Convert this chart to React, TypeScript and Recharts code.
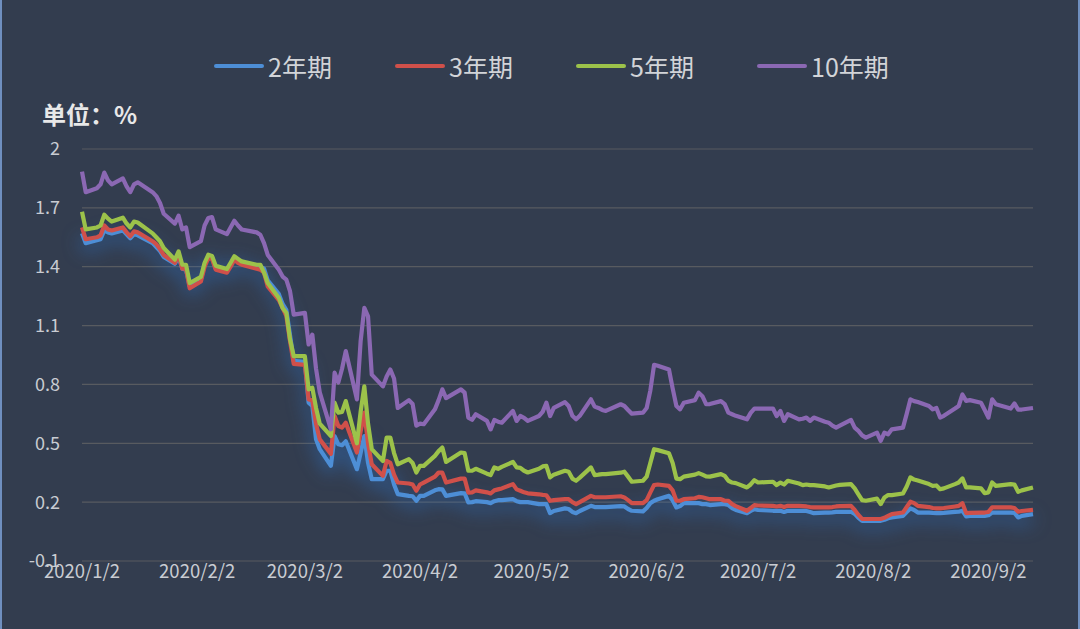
import { LineChart, Line, XAxis, YAxis, CartesianGrid } from 'recharts'

// trading days (2020)
const dates = [
  '1/2', '1/3', '1/6', '1/7', '1/8', '1/9', '1/10', '1/13', '1/14', '1/15', '1/16', '1/17', '1/21', '1/22', '1/23', '1/24',
  '1/27', '1/28', '1/29', '1/30', '1/31',
  '2/3', '2/4', '2/5', '2/6', '2/7', '2/10', '2/11', '2/12', '2/13', '2/14', '2/18', '2/19', '2/20', '2/21', '2/24', '2/25',
  '2/26', '2/27', '2/28',
  '3/2', '3/3', '3/4', '3/5', '3/6', '3/9', '3/10', '3/11', '3/12', '3/13', '3/16', '3/17', '3/18', '3/19', '3/20', '3/23',
  '3/24', '3/25', '3/26', '3/27', '3/30', '3/31',
  '4/1', '4/2', '4/3', '4/6', '4/7', '4/8', '4/9', '4/13', '4/14', '4/15', '4/16', '4/17', '4/20', '4/21', '4/22', '4/23',
  '4/24', '4/27', '4/28', '4/29', '4/30',
  '5/1', '5/4', '5/5', '5/6', '5/7', '5/8', '5/11', '5/12', '5/13', '5/14', '5/15', '5/18', '5/19', '5/20', '5/21', '5/22',
  '5/26', '5/27', '5/28', '5/29',
  '6/1', '6/2', '6/3', '6/4', '6/5', '6/8', '6/9', '6/10', '6/11', '6/12', '6/15', '6/16', '6/17', '6/18', '6/19', '6/22',
  '6/23', '6/24', '6/25', '6/26', '6/29', '6/30',
  '7/1', '7/2', '7/6', '7/7', '7/8', '7/9', '7/10', '7/13', '7/14', '7/15', '7/16', '7/17', '7/20', '7/21', '7/22', '7/23',
  '7/24', '7/27', '7/28', '7/29', '7/30', '7/31',
  '8/3', '8/4', '8/5', '8/6', '8/7', '8/10', '8/11', '8/12', '8/13', '8/14', '8/17', '8/18', '8/19', '8/20', '8/21', '8/24',
  '8/25', '8/26', '8/27', '8/28', '8/31',
  '9/1', '9/2', '9/3', '9/4', '9/8', '9/9', '9/10', '9/11', '9/14',
]

const y2 = [
  1.57, 1.52, 1.535, 1.54, 1.585, 1.575, 1.57, 1.585, 1.565, 1.545, 1.565, 1.56, 1.52, 1.5, 1.48, 1.45,
  1.415, 1.45, 1.39, 1.385, 1.3,
  1.336, 1.41, 1.453, 1.45, 1.39, 1.38, 1.41, 1.445, 1.43, 1.42, 1.4, 1.4, 1.39, 1.33, 1.26, 1.21,
  1.18, 1.05, 0.92,
  0.915, 0.707, 0.69, 0.52, 0.47, 0.385, 0.537, 0.495, 0.49, 0.51, 0.368, 0.45, 0.537, 0.4, 0.317, 0.317,
  0.36, 0.36, 0.29, 0.241, 0.232, 0.23,
  0.207, 0.232, 0.232, 0.26, 0.266, 0.265, 0.232, 0.246, 0.245, 0.199, 0.2, 0.205, 0.2, 0.195, 0.205, 0.21,
  0.21, 0.215, 0.205, 0.2, 0.2,
  0.2, 0.19, 0.19, 0.19, 0.144, 0.155, 0.168, 0.165, 0.15, 0.144, 0.155, 0.181, 0.175, 0.175, 0.175, 0.175,
  0.18, 0.178, 0.165, 0.156,
  0.153, 0.17, 0.195, 0.207, 0.215, 0.232, 0.21, 0.173, 0.18, 0.195, 0.195, 0.195, 0.19, 0.19, 0.185, 0.19,
  0.19, 0.185, 0.17, 0.16, 0.144, 0.155,
  0.164, 0.16, 0.156, 0.156, 0.156, 0.15, 0.156, 0.156, 0.155, 0.155, 0.15, 0.144, 0.147, 0.147, 0.148, 0.15,
  0.15, 0.151, 0.14, 0.12, 0.105, 0.105,
  0.105, 0.105, 0.11, 0.118, 0.122, 0.13, 0.15, 0.168, 0.16, 0.147, 0.147, 0.145, 0.144, 0.144, 0.145, 0.15,
  0.151, 0.156, 0.127, 0.13, 0.13,
  0.13, 0.133, 0.147, 0.147, 0.147, 0.145, 0.122, 0.13, 0.139,
]

const y3 = [
  1.6, 1.54, 1.55, 1.56, 1.61, 1.59, 1.585, 1.6, 1.575, 1.555, 1.58, 1.575, 1.53, 1.515, 1.49, 1.46,
  1.42, 1.46, 1.39, 1.39, 1.29,
  1.325, 1.4, 1.444, 1.44, 1.385, 1.37, 1.4, 1.436, 1.42, 1.41, 1.39, 1.385, 1.37, 1.3, 1.23, 1.19,
  1.15, 1.02, 0.905,
  0.9, 0.724, 0.72, 0.6, 0.52, 0.446, 0.639, 0.588, 0.58, 0.605, 0.453, 0.56, 0.656, 0.5, 0.393, 0.334,
  0.41, 0.4, 0.34, 0.3, 0.295, 0.29,
  0.258, 0.29, 0.3, 0.33, 0.351, 0.35, 0.3, 0.32, 0.32, 0.249, 0.25, 0.26, 0.25, 0.244, 0.26, 0.265,
  0.27, 0.292, 0.265, 0.258, 0.25,
  0.245, 0.24, 0.237, 0.235, 0.207, 0.21, 0.215, 0.215, 0.2, 0.19, 0.2, 0.232, 0.225, 0.225, 0.225, 0.225,
  0.23, 0.224, 0.21, 0.195,
  0.195, 0.21, 0.25, 0.287, 0.29, 0.283, 0.26, 0.207, 0.207, 0.215, 0.22, 0.227, 0.225, 0.22, 0.215, 0.215,
  0.207, 0.207, 0.19, 0.18, 0.156, 0.17,
  0.185, 0.183, 0.181, 0.178, 0.181, 0.175, 0.181, 0.181, 0.18, 0.178, 0.175, 0.173, 0.173, 0.173, 0.175, 0.178,
  0.18, 0.181, 0.16, 0.135, 0.115, 0.114,
  0.114, 0.114, 0.12, 0.13, 0.139, 0.147, 0.175, 0.202, 0.195, 0.181, 0.175, 0.17, 0.168, 0.168, 0.17, 0.178,
  0.181, 0.195, 0.144, 0.145, 0.147,
  0.147, 0.15, 0.173, 0.173, 0.173, 0.17, 0.151, 0.155, 0.161,
]

const y5 = [
  1.68, 1.59, 1.6, 1.61, 1.665, 1.645, 1.63, 1.65, 1.62, 1.6, 1.63, 1.625, 1.57, 1.55, 1.53, 1.495,
  1.436, 1.478, 1.41, 1.41, 1.317,
  1.348, 1.42, 1.461, 1.455, 1.405, 1.388, 1.42, 1.453, 1.44, 1.427, 1.41, 1.41, 1.37, 1.317, 1.24, 1.19,
  1.165, 1.03, 0.944,
  0.944, 0.775, 0.783, 0.68, 0.6, 0.537, 0.707, 0.656, 0.66, 0.715, 0.5, 0.66, 0.79, 0.6, 0.47, 0.41,
  0.529, 0.529, 0.45, 0.393, 0.419, 0.4,
  0.351, 0.385, 0.385, 0.436, 0.46, 0.478, 0.405, 0.453, 0.45, 0.36, 0.36, 0.37, 0.345, 0.338, 0.377, 0.37,
  0.38, 0.405, 0.377, 0.375, 0.36,
  0.351, 0.37, 0.382, 0.385, 0.326, 0.34, 0.36, 0.355, 0.32, 0.309, 0.325, 0.377, 0.338, 0.34, 0.343, 0.343,
  0.35, 0.355, 0.33, 0.304,
  0.309, 0.33, 0.4, 0.47, 0.465, 0.449, 0.4, 0.32, 0.317, 0.33, 0.34, 0.348, 0.34, 0.331, 0.33, 0.343,
  0.334, 0.309, 0.3, 0.297, 0.275, 0.29,
  0.312, 0.3, 0.304, 0.287, 0.3, 0.29, 0.309, 0.295, 0.287, 0.29, 0.287, 0.287, 0.28, 0.275, 0.28, 0.285,
  0.288, 0.292, 0.27, 0.24, 0.21, 0.207,
  0.218, 0.19, 0.224, 0.236, 0.236, 0.244, 0.28, 0.326, 0.315, 0.31, 0.292, 0.283, 0.285, 0.266, 0.27, 0.292,
  0.3, 0.321, 0.275, 0.275, 0.27,
  0.246, 0.25, 0.3, 0.283, 0.292, 0.29, 0.253, 0.26, 0.275,
]

const y10 = [
  1.885, 1.78, 1.8, 1.82, 1.88, 1.84, 1.82, 1.85, 1.81, 1.78, 1.82, 1.83, 1.78, 1.76, 1.725, 1.67,
  1.62, 1.66, 1.59, 1.6, 1.5,
  1.53, 1.61, 1.648, 1.653, 1.59, 1.566, 1.6, 1.634, 1.61, 1.59, 1.575, 1.563, 1.52, 1.46, 1.385, 1.35,
  1.334, 1.275, 1.156,
  1.165, 1.004, 1.054, 0.88, 0.76, 0.571, 0.86, 0.81, 0.88, 0.97, 0.724, 1.02, 1.19, 1.147, 0.85, 0.79,
  0.84, 0.876, 0.83, 0.68, 0.72, 0.7,
  0.59, 0.6, 0.597, 0.673, 0.72, 0.775, 0.73, 0.775, 0.758, 0.631, 0.62, 0.648, 0.614, 0.571, 0.619, 0.61,
  0.605, 0.665, 0.614, 0.639, 0.63,
  0.614, 0.639, 0.66, 0.707, 0.639, 0.68, 0.71, 0.69, 0.64, 0.622, 0.64, 0.724, 0.687, 0.68, 0.67, 0.665,
  0.699, 0.69, 0.67, 0.651,
  0.656, 0.68, 0.77, 0.9, 0.895, 0.876, 0.78, 0.69, 0.673, 0.707, 0.72, 0.758, 0.74, 0.699, 0.7, 0.715,
  0.7, 0.656, 0.648, 0.64, 0.622, 0.655,
  0.677, 0.677, 0.677, 0.639, 0.665, 0.614, 0.648, 0.622, 0.625, 0.631, 0.614, 0.631, 0.61, 0.605, 0.59, 0.58,
  0.59, 0.619, 0.58, 0.563, 0.54, 0.529,
  0.554, 0.512, 0.554, 0.546, 0.571, 0.58, 0.65, 0.724, 0.715, 0.71, 0.69, 0.673, 0.68, 0.631, 0.64, 0.677,
  0.69, 0.749, 0.716, 0.72, 0.707,
  0.67, 0.631, 0.724, 0.699, 0.677, 0.703, 0.672, 0.672, 0.68,
]

const tickLabels = ['2020/1/2', '2020/2/2', '2020/3/2', '2020/4/2', '2020/5/2', '2020/6/2', '2020/7/2', '2020/8/2', '2020/9/2']
const yTicks = [-0.1, 0.2, 0.5, 0.8, 1.1, 1.4, 1.7, 2]

const series = [
  { key: 'y2', name: '2年期', color: '#4d8ed6' },
  { key: 'y3', name: '3年期', color: '#d0504a' },
  { key: 'y5', name: '5年期', color: '#9cc24a' },
  { key: 'y10', name: '10年期', color: '#8b68b3' },
]

const FONT = '"Noto Sans CJK SC", "Noto Sans", sans-serif'
const BG = '#333d4f'

// days since 2020-01-01
const dayOf = (m: number, d: number) => (Date.UTC(2020, m - 1, d) - Date.UTC(2020, 0, 1)) / 86400000

const data = dates.map((s, i) => {
  const [m, d] = s.split('/').map(Number)
  return { day: dayOf(m, d), y2: y2[i], y3: y3[i], y5: y5[i], y10: y10[i] }
})

const tickDays = tickLabels.map((t) => {
  const [, m, d] = t.split('/').map(Number)
  return dayOf(m, d)
})
const labelFor = (v: number) => tickLabels[tickDays.indexOf(v)] ?? ''

export default function App() {
  return (
    <div
      style={{
        position: 'absolute',
        left: 0,
        top: 0,
        width: 1080,
        height: 629,
        background: BG,
        fontFamily: FONT,
        boxSizing: 'border-box',
        borderLeft: '2px solid #6f8fbf',
        borderRight: '2px solid #6f8fbf',
        overflow: 'hidden',
      }}
    >
      <style>{`path.recharts-line-curve[stroke="#4d8ed6"] { filter: drop-shadow(0px 5px 9px rgba(45, 125, 220, 0.85)); }`}</style>
      <div style={{ position: 'absolute', left: 212, top: 48, display: 'flex' }}>
        {series.map((s) => (
          <div key={s.key} style={{ width: 181, display: 'flex', alignItems: 'center', height: 36 }}>
            <div style={{ width: 50, height: 4, borderRadius: 2, background: s.color, marginRight: 4 }} />
            <span style={{ color: '#d2d4d8', fontSize: 25 }}>{s.name}</span>
          </div>
        ))}
      </div>
      <div
        style={{ position: 'absolute', left: 40, top: 96, color: '#e8e8e8', fontSize: 24, fontWeight: 700 }}
      >
        单位：%
      </div>
      <div style={{ position: 'absolute', left: -2, top: 0 }}>
        <LineChart width={1080} height={629} data={data} margin={{ top: 149, right: 47, bottom: 38, left: 0 }}>
          <CartesianGrid horizontal vertical={false} stroke="#585b60" strokeWidth={1.2} />
          <XAxis
            dataKey="day"
            type="number"
            domain={[1, 257]}
            ticks={tickDays}
            interval={0}
            tickFormatter={labelFor}
            axisLine={false}
            tickLine={false}
            tickSize={0}
            tickMargin={4}
            height={30}
            tick={{ fill: '#c9ccd2', fontSize: 18.5, fontFamily: FONT }}
          />
          <YAxis
            type="number"
            domain={[-0.1, 2]}
            ticks={yTicks}
            interval={0}
            axisLine={false}
            tickLine={false}
            tickSize={0}
            tickMargin={22}
            width={82}
            tick={{ fill: '#c9ccd2', fontSize: 18, fontFamily: FONT }}
          />
          {series.map((s) => (
            <Line
              key={s.key}
              dataKey={s.key}
              name={s.name}
              type="linear"
              stroke={s.color}
              strokeWidth={4.2}
              strokeLinejoin="round"
              dot={false}
              activeDot={false}
              isAnimationActive={false}
            />
          ))}
        </LineChart>
      </div>
    </div>
  )
}
